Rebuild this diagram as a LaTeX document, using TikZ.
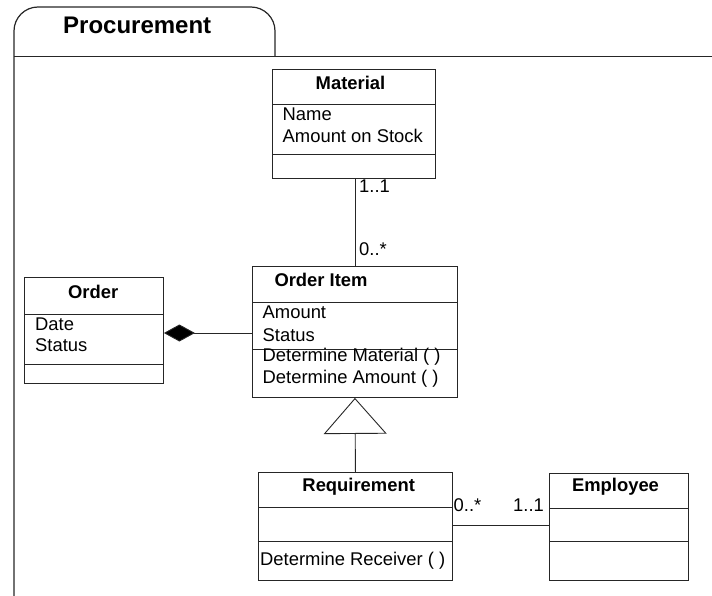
\documentclass[tikz,border=0pt]{standalone}
\usepackage{fontspec}
\setmainfont{Liberation Sans}
\usetikzlibrary{arrows.meta}
\tikzset{
  umlline/.style={line width=0.9pt, draw=black!85},
  classbox/.style={umlline, rectangle, inner sep=0pt, anchor=north west},
  classname/.style={font=\fontsize{18.4}{21.6}\selectfont\bfseries, inner sep=0pt, anchor=base},
  member/.style={font=\fontsize{18.4}{21.6}\selectfont, inner sep=0pt, anchor=base west},
  mult/.style={member},
}
\begin{document}
\begin{tikzpicture}[x=1pt,y=-1pt]
\useasboundingbox (0,0) rectangle (712,596);

% package frame with its tab
\draw[line width=1.2pt, draw=black!85, rounded corners=24pt] (14,610) -- (14,7) -- (275,7) -- (275,57);
\draw[line width=1pt, draw=black!85] (14,57) -- (712,57);
\node[font=\fontsize{24}{28}\selectfont\bfseries, inner sep=0pt, anchor=base west] (pkgname) at (63,34) {Procurement};

% Material
\node[classbox, minimum width=163pt, minimum height=109pt] (material) at (272,69) {};
\draw[umlline] (material.west |- 0,104) -- (material.east |- 0,104);
\draw[umlline] (material.west |- 0,154) -- (material.east |- 0,154);
\node[classname] (materialname) at (350.5,89.3) {Material};
\node[member] (matattr1) at (282.5,121) {Name};
\node[member] (matattr2) at (282.5,142.7) {Amount on Stock};

% Order Item
\node[classbox, minimum width=205pt, minimum height=131pt] (orderitem) at (252,266) {};
\draw[umlline] (orderitem.west |- 0,302) -- (orderitem.east |- 0,302);
\draw[umlline] (orderitem.west |- 0,349) -- (orderitem.east |- 0,349);
\node[classname, anchor=base west] (orderitemname) at (274.3,286.7) {Order Item};
\node[member] (oiattr1) at (262.5,318.3) {Amount};
\node[member] (oiattr2) at (262.5,341) {Status};
\node[member] (oiop1) at (262.5,361.7) {Determine Material ( )};
\node[member] (oiop2) at (262.5,383.3) {Determine Amount ( )};

% Order
\node[classbox, minimum width=139pt, minimum height=106pt] (order) at (24,277) {};
\draw[umlline] (order.west |- 0,314) -- (order.east |- 0,314);
\draw[umlline] (order.west |- 0,364) -- (order.east |- 0,364);
\node[classname] (ordername) at (93.2,298.3) {Order};
\node[member] (ordattr1) at (35,330) {Date};
\node[member] (ordattr2) at (35,351.7) {Status};

% Requirement
\node[classbox, minimum width=194pt, minimum height=108pt] (requirement) at (258,472) {};
\draw[umlline] (requirement.west |- 0,507.5) -- (requirement.east |- 0,507.5);
\draw[umlline] (requirement.west |- 0,541.5) -- (requirement.east |- 0,541.5);
\node[classname] (requirementname) at (358.7,491.5) {Requirement};
\node[member] (reqop1) at (260,565) {Determine Receiver ( )};

% Employee
\node[classbox, minimum width=139pt, minimum height=107pt] (employee) at (549,473) {};
\draw[umlline] (employee.west |- 0,508.5) -- (employee.east |- 0,508.5);
\draw[umlline] (employee.west |- 0,541.5) -- (employee.east |- 0,541.5);
\node[classname] (employeename) at (615.5,491) {Employee};

% association Material -- Order Item
\coordinate (matx) at (355.7,0);
\draw[umlline] (material.south -| matx) -- (orderitem.north -| matx);
\node[mult] (mult1) at (359,192.7) {1..1};
\node[mult] (mult2) at (359,255) {0..*};

% composition Order Item -> Order
\coordinate (compy) at (0,333);
\draw[umlline, -{Diamond[length=31pt,width=17pt,fill=black]}] (orderitem.west |- compy) -- (order.east |- compy);

% generalization Requirement -> Order Item
\draw[umlline, -{Triangle[open,length=36pt,width=63pt,fill=white]}] (requirement.north) -- (orderitem.south);

% association Requirement -- Employee
\coordinate (assy) at (0,525.7);
\draw[umlline] (requirement.east |- assy) -- (employee.west |- assy);
\node[mult] (mult3) at (453.5,511) {0..*};
\node[mult] (mult4) at (513,511) {1..1};
\end{tikzpicture}
\end{document}
